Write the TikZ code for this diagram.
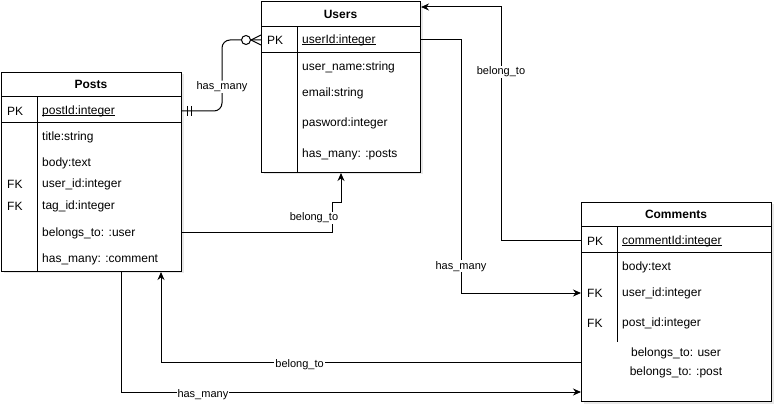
\documentclass[tikz,border=0pt]{standalone}
\usepackage{fontspec}
\setmainfont{Liberation Sans}
\usetikzlibrary{arrows.meta,calc,shadows}
\newcommand{\keyname}[1]{\underline{\smash{#1}}\vphantom{#1}}
\tikzset{
  entity/.style={
    rectangle,
    draw=black,
    fill=white,
    line width=1pt,
    anchor=north west,
    inner sep=0pt,
    drop shadow={opacity=0.18, shadow xshift=2pt, shadow yshift=-2pt}
  },
  title/.style={font=\fontsize{12}{14}\selectfont\bfseries},
  field/.style={anchor=west, inner sep=0pt, font=\fontsize{12}{14}\selectfont},
  note/.style={inner sep=0pt, font=\fontsize{12}{14}\selectfont},
  rel/.style={line width=1pt},
  line/.style={-{Stealth[length=8pt,width=7pt]}, line width=1pt},
  lbl/.style={fill=white, inner sep=1pt, font=\fontsize{11}{13}\selectfont}
}

\begin{document}
\begin{tikzpicture}[x=1pt,y=-1pt]
  \useasboundingbox (0,0) rectangle (782,414);

  % Users
  \node[entity, minimum width=159pt, minimum height=171pt] (users) at (261,1) {};
  \draw[rel] (261,27) -- (420,27) (261,53) -- (420,53) (297,27) -- (297,172);
  \node[title] (usershead) at (340.5,14) {Users};
  \node[field] (userspk) at (267,40) {PK};
  \node[field] (userid) at (302,40) {\keyname{userId:integer}};
  \node[field] (username) at (302,67) {user\_name:string};
  \node[field] (useremail) at (302,93) {email:string};
  \node[field] (userpass) at (302,123) {pasword:integer};
  \node[field] (userposts) at (302,154) {has\_many: :posts};

  % Posts
  \node[entity, minimum width=180pt, minimum height=199pt] (posts) at (1,72) {};
  \draw[rel] (1,97) -- (181,97) (1,123) -- (181,123) (37,97) -- (37,271);
  \node[title] (postshead) at (91,84.5) {Posts};
  \node[field] (postspk) at (7,111) {PK};
  \node[field] (postid) at (42,111) {\keyname{postId:integer}};
  \node[field] (ptitle) at (42,137) {title:string};
  \node[field] (pbody) at (42,163) {body:text};
  \node[field] (puserfk) at (7,184) {FK};
  \node[field] (puserid) at (42,184) {user\_id:integer};
  \node[field] (ptagfk) at (7,206) {FK};
  \node[field] (ptagid) at (42,206) {tag\_id:integer};
  \node[field] (pbelongs) at (42,233) {belongs\_to: :user};
  \node[field] (pcomments) at (42,259) {has\_many: :comment};

  % Comments
  \node[entity, minimum width=190pt, minimum height=199pt] (comments) at (581,202) {};
  \draw[rel] (581,227) -- (771,227) (581,253) -- (771,253) (617,227) -- (617,342);
  \node[title] (commentshead) at (676,214.5) {Comments};
  \node[field] (commentspk) at (587,241) {PK};
  \node[field] (commentid) at (622,241) {\keyname{commentId:integer}};
  \node[field] (cbody) at (622,267) {body:text};
  \node[field] (cuserfk) at (587,293) {FK};
  \node[field] (cuserid) at (622,293) {user\_id:integer};
  \node[field] (cpostfk) at (587,323) {FK};
  \node[field] (cpostid) at (622,323) {post\_id:integer};
  \node[note] (cbuser) at (676,353) {belongs\_to: user};
  \node[note] (cbpost) at (676,372) {belongs\_to: :post};

  % relations
  \coordinate (crow) at (users.west |- userid);
  \coordinate (bars) at (posts.east |- postid);
  \draw[rel, rounded corners=8pt] (bars) -- ++(40,0) |- node[lbl, pos=0.17] {has\_many} (crow);
  \draw[rel] ($(bars)+(5,-5)$) -- ++(0,10) ($(bars)+(9,-5)$) -- ++(0,10);
  \draw[rel] ($(crow)+(-10,0)$) -- ($(crow)+(0,-5)$) ($(crow)+(-10,0)$) -- ($(crow)+(0,5)$);
  \draw[rel, fill=white] ($(crow)+(-15,0)$) circle (4.5pt);

  \draw[line] (users.east |- userid) -- ++(40,0) |- node[lbl, pos=0.447] {has\_many} (comments.west |- cuserid);
  \draw[line] (comments.west |- commentid) -- ++(-80,0) |- node[lbl, pos=0.361] {belong\_to} ($(users.north east)+(0,6)$);
  \draw[line] (posts.east |- pbelongs) -- ++(150,0) |- node[lbl, pos=0.25, xshift=-18pt] {belong\_to} ($(users.south)+(0,30)$) -- (users.south);
  \draw[line] ($(comments.south west)+(0,-40)$) -| node[lbl, pos=0.335, yshift=-3pt] {belong\_to} ($(posts.south east)+(-21,0)$);
  \draw[line] ($(posts.south west)+(120,0)$) |- node[lbl, pos=0.589, yshift=-3pt] {has\_many} ($(comments.south west)+(0,-10)$);
\end{tikzpicture}
\end{document}
